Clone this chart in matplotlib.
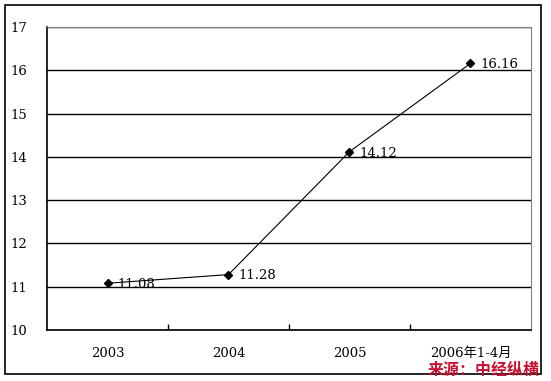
import matplotlib
matplotlib.use("Agg")
from matplotlib import pyplot as plt
from matplotlib.patches import Rectangle

years = ['2003', '2004', '2005', '2006年1-4月']
values = [11.08, 11.28, 14.12, 16.16]
value_labels = ['11.08', '11.28', '14.12', '16.16']
yticks = [10, 11, 12, 13, 14, 15, 16, 17]
source = '来源：中经纵横'

plt.rcParams['font.family'] = ['DejaVu Serif', 'Noto Sans CJK SC']

fig = plt.figure(figsize=(5.51, 3.81), dpi=100)
fig.patches.append(Rectangle((0.009, 0.018), 0.973, 0.969, transform=fig.transFigure,
                             fill=False, edgecolor='black', linewidth=1.2))

ax = fig.add_axes([0.0853, 0.1339, 0.8784, 0.7952])
x = list(range(len(years)))
ax.plot(x, values, color='black', linewidth=0.8, marker='D', markersize=4)
for xi, v, lab in zip(x, values, value_labels):
    ax.annotate(lab, (xi, v), xytext=(7, -1), textcoords='offset points',
                va='center', ha='left', fontsize=9.5)

ax.set_xlim(-0.5, 3.5)
ax.set_ylim(10, 17)
ax.set_yticks(yticks)
ax.set_xticks(x)
ax.set_xticklabels(years)
ax.set_xticks([0.5, 1.5, 2.5], minor=True)
ax.tick_params(axis='x', which='major', length=0, pad=12, labelsize=9.5)
ax.tick_params(axis='x', which='minor', direction='in', length=4, width=1)
ax.tick_params(axis='y', length=0, pad=14, labelsize=9.5)
ax.grid(axis='y', color='black', linewidth=1)
ax.set_axisbelow(True)

ax.spines['left'].set_linewidth(1.2)
ax.spines['bottom'].set_linewidth(1.2)
ax.spines['top'].set_color('#808080')
ax.spines['right'].set_color('#808080')

fig.text(428 / 551, 0.03, source, color='#c8102e', fontsize=11.5, fontweight='bold',
         family=['Noto Sans CJK SC'], ha='left', va='center')

fig.savefig('out.png', dpi=100)
